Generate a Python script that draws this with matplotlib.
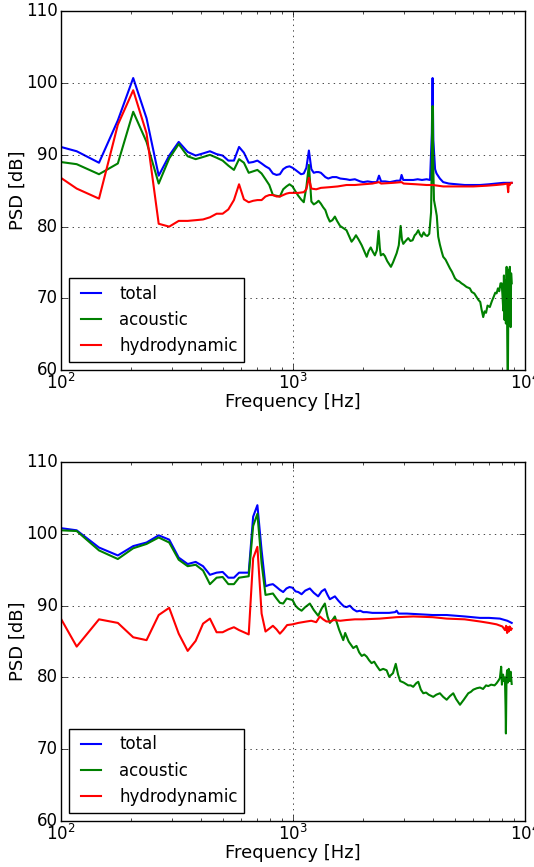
import numpy as np
import matplotlib
matplotlib.use('Agg')
import matplotlib.pyplot as plt

plt.style.use('classic')
plt.rcParams['mathtext.fontset'] = 'dejavusans'
plt.rcParams['figure.facecolor'] = 'white'
plt.rcParams['savefig.facecolor'] = 'white'

# ---- top panel ----
f_top_tot = [100, 117, 146, 176, 205, 234, 264, 293, 322, 352, 381, 410, 439, 469, 498, 527, 557, 586,
             615, 645, 674, 703, 733, 762, 791, 820, 850, 879, 908, 938, 967, 996, 1026, 1055, 1084, 1114,
             1143, 1172, 1201, 1230, 1260, 1290, 1320, 1350, 1380, 1420, 1480, 1540, 1600, 1700, 1760,
             1850, 1950, 2010, 2100, 2200, 2300, 2350, 2400, 2500, 2620, 2800, 2900, 2940, 2990, 3150,
             3300, 3450, 3600, 3770, 3900, 3970, 4000, 4030, 4100, 4160, 4300, 4444, 4700, 5080, 5500,
             6000, 6400, 7000, 7500, 8070, 8500, 8770]
p_top_tot = [91.1, 90.5, 88.9, 94.8, 100.7, 95.1, 87.1, 89.9, 91.8, 90.4, 89.9, 90.2, 90.5, 90.1, 89.9,
             89.2, 89.2, 91.1, 90.3, 88.9, 89.0, 89.2, 88.8, 88.4, 88.1, 87.4, 87.2, 87.3, 88.0, 88.3, 88.4,
             88.2, 87.9, 87.6, 87.3, 87.4, 88.2, 90.6, 88.0, 87.5, 87.6, 87.6, 87.5, 87.2, 86.9, 86.7, 86.9,
             86.9, 86.7, 86.6, 86.5, 86.6, 86.3, 86.2, 86.3, 86.2, 86.2, 87.1, 86.3, 86.3, 86.2, 86.4, 86.4,
             87.2, 86.5, 86.5, 86.5, 86.6, 86.5, 86.6, 86.5, 93.0, 100.7, 92.0, 88.0, 87.4, 86.7, 86.2,
             86.0, 85.9, 85.8, 85.8, 85.8, 85.9, 86.0, 86.1, 86.1, 86.1]

f_top_ac = [100, 117, 146, 176, 205, 234, 264, 293, 322, 352, 381, 410, 439, 469, 498, 527, 557, 586,
            615, 645, 674, 703, 733, 762, 791, 820, 850, 879, 908, 938, 967, 996, 1026, 1055, 1084, 1114,
            1143, 1172, 1201, 1230, 1260, 1290, 1320, 1350, 1380, 1410, 1443, 1480, 1517, 1550, 1597,
            1650, 1702, 1750, 1790, 1830, 1870, 1920, 1980, 2030, 2080, 2120, 2165, 2210, 2256, 2300,
            2340, 2370, 2393, 2450, 2492, 2550, 2645, 2700, 2760, 2800, 2860, 2913, 2950, 2990, 3060,
            3140, 3210, 3280, 3350, 3400, 3470, 3530, 3590, 3660, 3730, 3800, 3870, 3940, 3970, 4000,
            4030, 4055, 4120, 4170, 4230, 4300, 4380, 4444, 4550, 4650, 4750, 4850, 4995, 5100, 5200,
            5330, 5450, 5600, 5790, 5900, 6050, 6190, 6300, 6420, 6500, 6610, 6700, 6800, 6900, 7060,
            7200, 7350, 7450, 7550, 7650, 7750, 7850, 7940, 8000, 8070, 8120, 8170, 8230, 8280, 8340,
            8400, 8440, 8500, 8560, 8610, 8680, 8720, 8770]
p_top_ac = [89.0, 88.7, 87.3, 88.8, 96.0, 91.8, 86.0, 89.5, 91.5, 89.8, 89.4, 89.7, 90.0, 89.6, 89.2,
            88.5, 87.9, 89.4, 88.9, 87.5, 87.7, 87.9, 87.4, 86.6, 85.8, 84.4, 84.3, 84.2, 85.2, 85.6, 85.9,
            85.6, 84.9, 84.3, 83.8, 83.4, 85.5, 88.6, 83.5, 83.1, 83.3, 83.6, 83.2, 82.7, 82.3, 81.4, 80.7,
            80.9, 81.4, 80.8, 80.1, 79.8, 79.5, 78.6, 77.9, 78.3, 78.8, 78.2, 77.4, 76.6, 75.8, 76.6, 77.1,
            76.5, 76.0, 76.7, 79.4, 77.0, 76.0, 76.2, 75.9, 75.2, 74.4, 75.0, 75.8, 76.3, 77.4, 80.1, 78.2,
            77.6, 78.0, 78.4, 78.0, 78.1, 78.8, 79.0, 79.5, 78.9, 78.6, 79.2, 78.8, 78.7, 79.0, 82.0, 90.0,
            96.8, 88.0, 83.7, 82.5, 81.5, 78.6, 77.5, 76.5, 75.8, 75.4, 74.8, 74.2, 73.7, 72.8, 72.5, 72.4,
            72.1, 71.9, 71.6, 71.4, 70.9, 70.7, 70.2, 69.8, 69.5, 68.5, 67.4, 68.2, 68.0, 69.0, 68.8, 69.6,
            70.3, 70.8, 70.7, 71.4, 71.0, 72.1, 72.1, 70.5, 68.3, 73.2, 67.0, 72.5, 66.5, 74.4, 63.0, 58.0,
            74.0, 68.0, 74.4, 66.0, 73.5, 72.1]

f_top_hy = [100, 117, 146, 176, 205, 234, 264, 293, 322, 352, 381, 410, 439, 469, 498, 527, 557, 586,
            615, 645, 674, 703, 733, 762, 791, 820, 850, 879, 908, 938, 967, 996, 1055, 1114, 1143, 1172,
            1201, 1260, 1320, 1443, 1560, 1702, 1850, 2010, 2200, 2350, 2400, 2700, 2940, 3000, 3400,
            3770, 4000, 4444, 5000, 5420, 6000, 6840, 7500, 8070, 8400, 8470, 8520, 8600, 8700, 8770]
p_top_hy = [86.8, 85.3, 83.9, 94.2, 99.0, 93.0, 80.4, 80.0, 80.8, 80.8, 80.9, 81.0, 81.3, 81.8, 81.8,
            82.4, 83.7, 85.9, 83.8, 83.4, 83.6, 83.7, 83.7, 84.2, 84.4, 84.4, 84.2, 84.2, 84.4, 84.6, 84.7,
            84.7, 84.7, 84.8, 85.2, 86.8, 85.3, 85.2, 85.4, 85.5, 85.6, 85.8, 85.8, 85.9, 86.0, 86.2, 86.0,
            86.1, 86.2, 86.0, 85.9, 85.8, 85.8, 85.6, 85.6, 85.6, 85.6, 85.7, 85.8, 85.9, 86.0, 84.8, 86.0,
            85.8, 86.1, 86.1]

# ---- bottom panel ----
f_bot_tot = [100, 117, 146, 176, 205, 234, 264, 293, 322, 352, 381, 410, 439, 469, 498, 527, 557, 586,
             615, 645, 674, 703, 733, 762, 791, 820, 850, 879, 908, 938, 967, 996, 1026, 1055, 1090, 1130,
             1183, 1230, 1285, 1330, 1373, 1410, 1443, 1480, 1517, 1570, 1623, 1660, 1702, 1760, 1820,
             1885, 1950, 2010, 2080, 2200, 2370, 2600, 2757, 2800, 2850, 3100, 3524, 4000, 4600, 5500,
             6400, 7000, 7800, 8400, 8770]
p_bot_tot = [100.8, 100.5, 98.1, 97.0, 98.3, 98.8, 99.8, 99.2, 96.7, 95.8, 96.1, 95.5, 94.3, 94.6, 94.7,
             93.9, 93.9, 94.6, 94.6, 94.6, 102.4, 104.0, 97.7, 92.7, 92.9, 93.0, 92.6, 92.2, 91.9, 92.4,
             92.6, 92.5, 92.0, 91.9, 91.6, 92.1, 92.4, 91.8, 91.3, 92.0, 92.3, 91.5, 90.9, 91.1, 91.3, 90.7,
             90.2, 89.9, 89.8, 90.0, 89.5, 89.2, 89.3, 89.1, 89.1, 89.0, 89.0, 89.0, 89.1, 89.3, 88.9, 88.9,
             88.8, 88.7, 88.7, 88.5, 88.3, 88.3, 88.2, 87.9, 87.6]

f_bot_ac = [100, 117, 146, 176, 205, 234, 264, 293, 322, 352, 381, 410, 439, 469, 498, 527, 557, 586,
            615, 645, 674, 703, 733, 762, 791, 820, 850, 879, 908, 940, 967, 996, 1026, 1055, 1090, 1130,
            1183, 1230, 1285, 1330, 1373, 1410, 1443, 1480, 1517, 1580, 1648, 1680, 1740, 1820, 1880,
            1930, 1980, 2030, 2080, 2130, 2183, 2240, 2300, 2370, 2450, 2535, 2600, 2700, 2775, 2840,
            2900, 3000, 3140, 3220, 3300, 3400, 3470, 3560, 3647, 3750, 3850, 4025, 4150, 4300, 4444,
            4600, 4750, 4910, 5050, 5250, 5450, 5700, 5850, 5990, 6200, 6400, 6600, 6800, 6950, 7150,
            7400, 7550, 7700, 7800, 7900, 7960, 8050, 8120, 8200, 8250, 8280, 8330, 8380, 8450, 8520,
            8600, 8680, 8770]
p_bot_ac = [100.5, 100.4, 97.7, 96.5, 98.0, 98.6, 99.5, 98.8, 96.4, 95.5, 95.7, 94.9, 93.0, 93.9, 94.0,
            93.0, 93.0, 93.9, 94.0, 94.1, 101.1, 102.8, 95.9, 91.5, 91.6, 91.7, 91.0, 90.4, 90.3, 91.0,
            90.9, 90.8, 90.0, 89.6, 89.3, 89.8, 90.3, 89.4, 88.6, 89.6, 90.3, 88.5, 87.6, 88.0, 88.5, 86.7,
            85.2, 86.2, 85.0, 84.1, 84.4, 83.5, 83.0, 83.2, 82.9, 82.4, 82.0, 82.2, 81.6, 81.0, 81.2, 81.0,
            80.1, 80.6, 81.9, 80.4, 79.5, 79.3, 78.9, 78.9, 78.7, 79.2, 79.4, 78.3, 77.8, 77.9, 77.6, 77.3,
            77.6, 77.8, 77.3, 76.9, 77.4, 77.8, 77.0, 76.2, 76.9, 77.8, 78.0, 78.3, 78.5, 78.6, 78.4, 78.9,
            78.8, 79.0, 78.9, 79.2, 79.6, 79.9, 81.5, 79.0, 80.4, 79.5, 80.0, 76.0, 72.2, 80.0, 81.0, 79.3,
            81.2, 79.5, 80.8, 79.1]

f_bot_hy = [100, 117, 146, 176, 205, 234, 264, 293, 322, 352, 381, 410, 439, 469, 498, 527, 557, 586,
            615, 645, 674, 703, 733, 762, 791, 820, 850, 879, 908, 944, 996, 1055, 1146, 1200, 1260, 1307,
            1350, 1395, 1443, 1500, 1600, 1700, 1850, 2000, 2370, 2800, 3300, 4000, 4600, 5500, 6400,
            7000, 7550, 8000, 8200, 8300, 8380, 8450, 8520, 8600, 8700, 8770]
p_bot_hy = [88.2, 84.3, 88.1, 87.6, 85.6, 85.2, 88.7, 89.7, 86.1, 83.7, 85.1, 87.5, 88.2, 86.3, 86.3,
            86.7, 87.0, 86.6, 86.3, 86.0, 96.6, 98.2, 88.9, 86.4, 86.8, 87.2, 86.7, 86.1, 86.6, 87.3, 87.4,
            87.6, 87.8, 87.9, 87.7, 88.5, 88.1, 87.8, 87.8, 88.0, 87.9, 88.0, 88.1, 88.1, 88.2, 88.4, 88.5,
            88.4, 88.2, 88.1, 87.8, 87.6, 87.4, 87.1, 86.6, 87.2, 86.2, 87.0, 86.4, 87.1, 86.6, 86.8]

fig = plt.figure(figsize=(5.34, 8.67), dpi=100)
ax1 = fig.add_axes([0.114, 0.573, 0.869, 0.414])
ax2 = fig.add_axes([0.114, 0.053, 0.869, 0.414])

panels = [
    (ax1, f_top_tot, p_top_tot, f_top_ac, p_top_ac, f_top_hy, p_top_hy),
    (ax2, f_bot_tot, p_bot_tot, f_bot_ac, p_bot_ac, f_bot_hy, p_bot_hy),
]

for ax, ft, pt, fa, pa, fh, ph in panels:
    ax.semilogx(ft, pt, 'b-', lw=1.5, label='total')
    ax.semilogx(fa, pa, 'g-', lw=1.5, label='acoustic')
    ax.semilogx(fh, ph, 'r-', lw=1.5, label='hydrodynamic')
    ax.set_xlim(1e2, 1e4)
    ax.set_ylim(60, 110)
    ax.set_yticks([60, 70, 80, 90, 100, 110])
    ax.grid(True, which='major', color='k', linestyle=':')
    ax.set_xlabel('Frequency [Hz]', fontsize=13, labelpad=0)
    ax.set_ylabel('PSD [dB]', fontsize=13, labelpad=0)
    ax.tick_params(axis='both', which='major', labelsize=12, pad=2)
    ax.legend(loc='lower left', fontsize=12, handlelength=1.8)

fig.savefig('out.png', dpi=100)
